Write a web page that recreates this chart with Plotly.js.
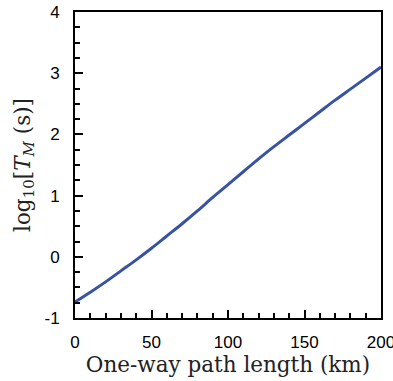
<!DOCTYPE html>
<html>
<head>
<meta charset="utf-8">
<script src="https://cdn.plot.ly/plotly-3.0.1.min.js"></script>
<style>html,body{margin:0;padding:0;background:#fff;}#chart{width:393px;height:381px;}</style>
</head>
<body>
<div id="chart"></div>
<script>
const pathLengthKm = [0, 10, 20, 30, 40, 50, 60, 70, 80, 90, 100, 110, 120, 130, 140, 150, 160, 170, 180, 190, 200];
const log10TM = [-0.74, -0.58, -0.41, -0.23, -0.05, 0.14, 0.34, 0.54, 0.75, 0.97, 1.18, 1.39, 1.60, 1.80, 1.99, 2.18, 2.37, 2.56, 2.74, 2.92, 3.10];
const xTicks = [0, 50, 100, 150, 200];
const yTicks = [-1, 0, 1, 2, 3, 4];

const trace = {
  x: pathLengthKm,
  y: log10TM,
  type: 'scatter',
  mode: 'lines',
  line: {color: '#3953a4', width: 3, shape: 'spline', smoothing: 0.8},
  hoverinfo: 'none',
  cliponaxis: true
};

const tickFont = {family: 'Liberation Sans, Arial, sans-serif', size: 17, color: '#000'};
const titleFont = {family: 'DejaVu Serif, serif', size: 21.5, color: '#222'};

const layout = {
  width: 393,
  height: 381,
  margin: {l: 75, r: 12, t: 12, b: 63},
  paper_bgcolor: '#fff',
  plot_bgcolor: '#fff',
  showlegend: false,
  xaxis: {
    range: [0, 200],
    tickvals: xTicks,
    ticktext: xTicks.map(String),
    ticks: 'inside',
    ticklen: 8,
    tickwidth: 2,
    tickcolor: '#000',
    minor: {dtick: 10, ticks: 'inside', ticklen: 5, tickwidth: 2, tickcolor: '#000'},
    showline: true,
    linecolor: '#000',
    linewidth: 2,
    mirror: true,
    showgrid: false,
    zeroline: false,
    tickfont: tickFont,
    ticklabelstandoff: 8,
    ticklabeloverflow: 'allow',
    automargin: false,
    title: {text: 'One-way path length (km)', font: titleFont, standoff: 4}
  },
  yaxis: {
    range: [-1, 4],
    tickvals: yTicks,
    ticktext: yTicks.map(String),
    ticks: 'inside',
    ticklen: 8,
    tickwidth: 2,
    tickcolor: '#000',
    minor: {dtick: 0.25, ticks: 'inside', ticklen: 5, tickwidth: 2, tickcolor: '#000'},
    showline: true,
    linecolor: '#000',
    linewidth: 2,
    mirror: true,
    showgrid: false,
    zeroline: false,
    tickfont: tickFont,
    ticklabelstandoff: 10,
    ticklabeloverflow: 'allow',
    automargin: false,
    title: {text: 'log<sub>10</sub>[<i>T</i><sub><i>M</i></sub> (s)]', font: titleFont, standoff: 8}
  }
};

Plotly.newPlot('chart', [trace], layout, {staticPlot: true, displayModeBar: false});
</script>
</body>
</html>
